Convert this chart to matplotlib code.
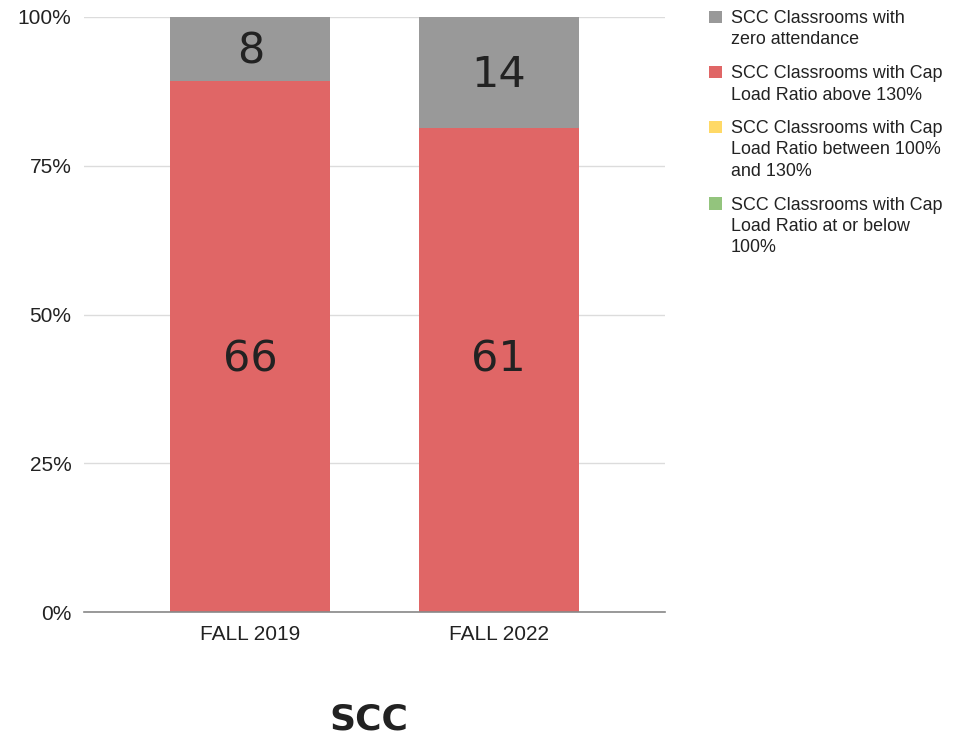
import matplotlib
matplotlib.use("Agg")
import matplotlib.pyplot as plt
import numpy as np
from matplotlib.patches import Rectangle
from matplotlib.transforms import offset_copy

categories = ["FALL 2019", "FALL 2022"]
zero_attendance = [8, 14]
above_130 = [66, 61]
between_100_130 = [0, 0]
at_or_below_100 = [0, 0]

series_labels = [
    "SCC Classrooms with\nzero attendance",
    "SCC Classrooms with Cap\nLoad Ratio above 130%",
    "SCC Classrooms with Cap\nLoad Ratio between 100%\nand 130%",
    "SCC Classrooms with Cap\nLoad Ratio at or below\n100%",
]
colors = ["#999999", "#e06666", "#ffd966", "#93c47d"]
title = "SCC"

W, H = 968, 742
fig = plt.figure(figsize=(W/100, H/100), dpi=100)
ax = fig.add_axes([84/W, 130/H, (665-84)/W, (612-17)/H])
label_tr = offset_copy(ax.transData, fig=fig, x=0, y=2.5, units="dots")

x = np.arange(len(categories))
series_values = [zero_attendance, above_130, between_100_130, at_or_below_100]
totals = np.sum(np.array(series_values), axis=0)
stack_order = [1, 2, 3, 0]
red_label_y = 42.7  # in-bar labels of the red series sit at one common height
bottom = np.zeros(len(categories))
w = 0.645
for idx in stack_order:
    vals = np.array(series_values[idx])
    frac = vals / totals * 100
    ax.bar(x, frac, w, bottom=bottom, color=colors[idx], label=series_labels[idx], zorder=3)
    for xi, f, bt, v in zip(x, frac, bottom, vals):
        if v > 0:
            ypos = red_label_y if idx == 1 else bt + f/2
            ax.text(xi, ypos, str(v), ha="center", va="center_baseline", fontsize=31,
                    color="#222222", family="DejaVu Sans", zorder=4,
                    transform=label_tr)
    bottom += frac

ax.set_xlim(-0.67, 1.67)
ax.set_ylim(0, 100)
ax.set_yticks([0, 25, 50, 75, 100])
ax.set_yticklabels(["0%", "25%", "50%", "75%", "100%"], fontsize=15, family="Liberation Sans")
ax.set_xticks(x)
ax.set_xticklabels(categories, fontsize=15, family="Liberation Sans")
ax.tick_params(axis="both", length=0, colors="#222222")
ax.tick_params(axis="y", pad=9)
ax.tick_params(axis="x", pad=9)
ax.grid(axis="y", color="#dcdcdc", linewidth=1, zorder=0)
for s in ["top", "right", "left"]:
    ax.spines[s].set_visible(False)
ax.spines["bottom"].set_color("#888888")
ax.spines["bottom"].set_linewidth(1.2)
ax.spines["bottom"].set_zorder(5)

# legend (top-aligned markers, as in the reference)
baseline = 23.0
pitch = 21.5
gap = 12.0
for lab, col in zip(series_labels, colors):
    fig.patches.append(Rectangle((709/W, 1 - baseline/H), 12.5/W, 12.5/H,
                                 transform=fig.transFigure, facecolor=col,
                                 edgecolor="none"))
    for line in lab.split("\n"):
        fig.text(731/W, 1 - baseline/H, line, ha="left", va="baseline",
                 fontsize=12.9, family="Liberation Sans", color="#222222")
        baseline += pitch
    baseline += gap

fig.text(369/W, 1 - 730/H, title, ha="center", va="baseline", fontsize=26,
         fontweight="bold", family="DejaVu Sans", color="#222222")

fig.savefig("out.png", dpi=100)
